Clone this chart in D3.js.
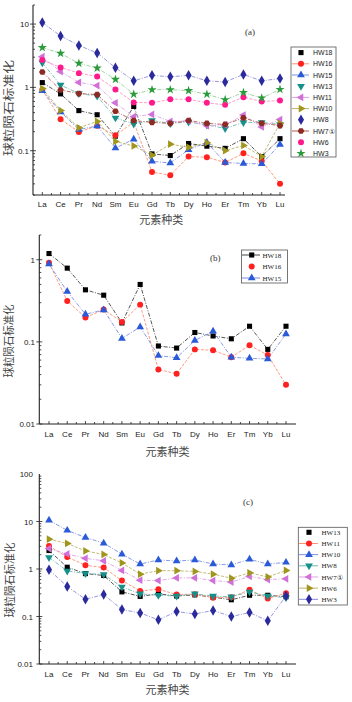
<!DOCTYPE html>
<html>
<head>
<meta charset="utf-8">
<script src="https://cdn.jsdelivr.net/npm/d3@7"></script>
<style>
  body { margin: 0; background: #fff; }
  svg { display: block; }
  .tick-label { font-family: "Liberation Sans", Arial, sans-serif; font-size: 8px; fill: #222; }
  .cn { font-family: "Noto Sans CJK SC", sans-serif; fill: #444; }
</style>
</head>
<body>
<div id="chart"></div>
<script>
// REE elements on the x axis
var elements = ["La", "Ce", "Pr", "Nd", "Sm", "Eu", "Gd", "Tb", "Dy", "Ho", "Er", "Tm", "Yb", "Lu"];

// chondrite normalised values
var hw18 = [1.19, 0.79, 0.43, 0.37, 0.17, 0.50, 0.089, 0.084, 0.13, 0.118, 0.109, 0.155, 0.081, 0.155];
var hw16 = [0.92, 0.315, 0.198, 0.247, 0.175, 0.284, 0.046, 0.041, 0.081, 0.079, 0.065, 0.091, 0.069, 0.030];
var hw15 = [0.885, 0.41, 0.217, 0.245, 0.11, 0.152, 0.068, 0.064, 0.104, 0.135, 0.065, 0.063, 0.062, 0.125];
var hw13 = [2.45, 1.09, 0.80, 0.73, 0.33, 0.265, 0.30, 0.27, 0.285, 0.255, 0.225, 0.28, 0.28, 0.26];
var hw11 = [3.05, 1.78, 1.2, 1.07, 0.57, 0.345, 0.375, 0.29, 0.295, 0.248, 0.255, 0.365, 0.238, 0.31];
var hw10 = [0.96, 0.43, 0.23, 0.29, 0.14, 0.119, 0.085, 0.127, 0.113, 0.134, 0.10, 0.121, 0.081, 0.27];
var hw8 = [10.6, 6.5, 4.6, 3.5, 2.05, 1.27, 1.55, 1.47, 1.55, 1.27, 1.22, 1.6, 1.27, 1.38];
var hw7 = [1.75, 0.91, 0.80, 0.77, 0.42, 0.30, 0.28, 0.27, 0.30, 0.27, 0.26, 0.33, 0.27, 0.25];
var hw6 = [2.7, 2.07, 1.68, 1.49, 0.93, 0.58, 0.57, 0.65, 0.65, 0.57, 0.53, 0.70, 0.60, 0.62];
var hw3 = [4.25, 3.45, 2.4, 2.02, 1.34, 0.78, 0.92, 0.92, 0.89, 0.78, 0.64, 0.83, 0.68, 0.93];

// legend names per panel
var namesA = ["HW18", "HW16", "HW15", "HW13", "HW11", "HW10", "HW8", "HW7\u2460", "HW6", "HW3"];
var namesB = ["HW18", "HW16", "HW15"];
var namesC = ["HW13", "HW11", "HW10", "HW8", "HW7\u2460", "HW6", "HW3"];

// y tick labels per panel
var ticksA = [0.1, 1, 10];
var ticksB = [0.01, 0.1, 1];
var ticksC = [0.01, 0.1, 1, 10, 100];

var yTitle = "球粒陨石标准化";
var xTitle = "元素种类";

// styles: marker shape, marker colour, line colour, dash
var sty = {
	black:  {shape: "square",  fill: "#000",    line: "#444",    dash: "4,1.5,1,1.5"},
	red:    {shape: "circle",  fill: "#ff2020", line: "#ff9070", dash: "3,1.5"},
	blue:   {shape: "up",      fill: "#2a5ad8", line: "#7c8ee2", dash: "4,1.5,1,1.5"},
	teal:   {shape: "down",    fill: "#15908a", line: "#70b8b0", dash: "4,1.5,1,1.5"},
	violet: {shape: "left",    fill: "#d070d8", line: "#e0a0e6", dash: "4,1.5,1,1.5"},
	olive:  {shape: "right",   fill: "#a0961e", line: "#bcb468", dash: "3,1.5"},
	navy:   {shape: "diamond", fill: "#2a2a9c", line: "#8c8cd8", dash: "4,1.5,1,1.5"},
	brown:  {shape: "hex",     fill: "#8c2a24", line: "#b45a52", dash: "4,1.5,1,1.5"},
	pink:   {shape: "circle",  fill: "#ff1a8c", line: "#ff90c4", dash: "3,1.5"},
	green:  {shape: "star",    fill: "#2a9a3a", line: "#98cc98", dash: "4,1.5,1,1.5"}
};

var svg = d3.select("#chart").append("svg")
	.attr("width", 352)
	.attr("height", 702);

function symPath(shape) {
	if (shape == "square") return d3.symbol(d3.symbolSquare, 26)();
	if (shape == "circle") return d3.symbol(d3.symbolCircle, 28)();
	if (shape == "diamond") return d3.symbol(d3.symbolDiamond, 32)();
	if (shape == "star") return d3.symbol(d3.symbolStar, 26)();
	if (shape == "hex") {
		var r = 3.3, pts = [];
		for (var i = 0; i < 6; i++) {
			var a = Math.PI / 3 * i;
			pts.push([r * Math.cos(a), r * Math.sin(a)]);
		}
		return "M" + pts.join("L") + "Z";
	}
	return d3.symbol(d3.symbolTriangle, 26)();
}
function symRot(shape) {
	if (shape == "down") return 180;
	if (shape == "left") return -90;
	if (shape == "right") return 90;
	return 0;
}

function drawMarker(g, x, y, s) {
	g.append("path")
		.attr("d", symPath(s.shape))
		.attr("transform", "translate(" + x + "," + y + ") rotate(" + symRot(s.shape) + ")")
		.attr("fill", s.fill);
}

function drawPanel(p) {
	var g = svg.append("g");

	var x = d3.scalePoint().domain(elements).range([p.xLa, p.xLu]);
	var y = d3.scaleLog().domain(p.domain).range([p.bottom, p.top]);

	// minor y ticks (inside), major ones cross the axis
	var lo = Math.floor(Math.log10(p.domain[0])), hi = Math.ceil(Math.log10(p.domain[1]));
	for (var e = lo; e < hi; e++) {
		for (var m = 1; m < 10; m++) {
			var v = m * Math.pow(10, e);
			if (v < p.domain[0] * 0.999 || v > p.domain[1] * 1.001) continue;
			var major = (m == 1);
			g.append("line")
				.attr("x1", major ? p.left - 3 : p.left)
				.attr("x2", p.left + (major ? 3 : 2))
				.attr("y1", y(v)).attr("y2", y(v))
				.attr("stroke", "#222").attr("stroke-width", 0.8);
		}
	}
	g.selectAll(".ylab").data(p.ticks).enter().append("text")
		.attr("class", "tick-label")
		.attr("x", p.yLabX)
		.attr("y", d => y(d) + 3)
		.attr("text-anchor", "end")
		.text(d => d);

	// x ticks (inside, with minor in between)
	var step = x.step();
	elements.forEach(function(el, i) {
		g.append("line")
			.attr("x1", x(el)).attr("x2", x(el))
			.attr("y1", p.bottom).attr("y2", p.bottom - 3)
			.attr("stroke", "#222").attr("stroke-width", 0.8);
		if (i < elements.length - 1) {
			g.append("line")
				.attr("x1", x(el) + step / 2).attr("x2", x(el) + step / 2)
				.attr("y1", p.bottom).attr("y2", p.bottom - 2)
				.attr("stroke", "#222").attr("stroke-width", 0.8);
		}
	});
	g.selectAll(".xlab").data(elements).enter().append("text")
		.attr("class", "tick-label")
		.attr("x", d => x(d))
		.attr("y", p.xLabY)
		.attr("text-anchor", "middle")
		.text(d => d);

	// axis lines
	g.append("line")
		.attr("x1", p.left).attr("x2", p.left)
		.attr("y1", p.top).attr("y2", p.bottom)
		.attr("stroke", "#222").attr("stroke-width", 1.1);
	g.append("line")
		.attr("x1", p.left).attr("x2", p.right)
		.attr("y1", p.bottom).attr("y2", p.bottom)
		.attr("stroke", "#222").attr("stroke-width", 1.1);

	// titles
	g.append("text")
		.attr("class", "cn")
		.attr("x", (p.xLa + p.xLu) / 2)
		.attr("y", p.xTitleY)
		.attr("text-anchor", "middle")
		.attr("font-size", 11)
		.text(xTitle);
	g.append("text")
		.attr("class", "cn")
		.attr("transform", "translate(" + (p.yTitleX + 4) + "," + p.yTitleY + ") rotate(-90)")
		.attr("text-anchor", "middle")
		.attr("font-size", 11)
		.attr("textLength", p.yTitleLen)
		.attr("lengthAdjust", "spacingAndGlyphs")
		.text(yTitle);

	g.append("text")
		.attr("x", p.labX).attr("y", p.labY)
		.attr("font-family", "Liberation Serif, serif")
		.attr("font-size", 9)
		.attr("fill", "#333")
		.text(p.label);

	// series lines
	var line = d3.line()
		.x((d, i) => x(elements[i]))
		.y(d => y(d));

	p.series.forEach(function(s) {
		g.append("path")
			.datum(s.values)
			.attr("fill", "none")
			.attr("stroke", s.style.line)
			.attr("stroke-width", 0.9)
			.attr("stroke-dasharray", s.style.dash)
			.attr("d", line);
	});
	p.series.forEach(function(s) {
		s.values.forEach(function(v, i) {
			drawMarker(g, x(elements[i]), y(v), s.style);
		});
	});

	// legend
	var L = p.legend;
	g.append("rect")
		.attr("x", L.x).attr("y", L.y)
		.attr("width", L.w).attr("height", L.h)
		.attr("fill", "#fff")
		.attr("stroke", "#555").attr("stroke-width", 0.8);
	p.series.forEach(function(s, i) {
		var yy = L.first + i * L.gap;
		if (s.legLine) {
			g.append("line")
				.attr("x1", L.lx1).attr("x2", L.lx2)
				.attr("y1", yy).attr("y2", yy)
				.attr("stroke", s.style.line).attr("stroke-width", 1);
		}
		drawMarker(g, L.sx, yy, s.style);
		g.append("text")
			.attr("x", L.tx).attr("y", yy + 2.6)
			.attr("font-family", L.font)
			.attr("font-size", L.size)
			.attr("fill", "#222")
			.text(s.name);
	});
}

// panel (a)
var dataA = [hw18, hw16, hw15, hw13, hw11, hw10, hw8, hw7, hw6, hw3];
var stylesA = ["black", "red", "blue", "teal", "violet", "olive", "navy", "brown", "pink", "green"];
var legLineA = [false, true, true, false, true, true, false, true, false, false];
drawPanel({
	left: 33, right: 285, top: 5, bottom: 195,
	xLa: 42.3, xLu: 280,
	domain: [0.02, 20], ticks: ticksA,
	yLabX: 29, xLabY: 207, xTitleY: 224,
	yTitleX: 9, yTitleY: 108, yTitleLen: 96,
	label: "(a)", labX: 245, labY: 35,
	series: namesA.map((n, i) => ({name: n, values: dataA[i], style: sty[stylesA[i]], legLine: legLineA[i]})),
	legend: {x: 291, y: 47, w: 45, h: 110, first: 52.6, gap: 11.2,
		lx1: 292, lx2: 309, sx: 301, tx: 313, font: "Liberation Sans, sans-serif", size: 7}
});

// panel (b)
var dataB = [hw18, hw16, hw15];
var stylesB = ["black", "red", "blue"];
var legLineB = [true, false, true];
drawPanel({
	left: 39.3, right: 296, top: 235, bottom: 424,
	xLa: 49, xLu: 286,
	domain: [0.01, 2], ticks: ticksB,
	yLabX: 35, xLabY: 437, xTitleY: 456,
	yTitleX: 9, yTitleY: 341, yTitleLen: 73,
	label: "(b)", labX: 210, labY: 261,
	series: namesB.map((n, i) => ({name: n, values: dataB[i], style: sty[stylesB[i]], legLine: legLineB[i]})),
	legend: {x: 241.5, y: 250, w: 46, h: 33, first: 255, gap: 11.5,
		lx1: 242, lx2: 260, sx: 251.7, tx: 262.5, font: "Liberation Serif, serif", size: 7}
});

// panel (c)
var dataC = [hw13, hw11, hw8, hw7, hw6, hw3, hw10];
var stylesC = ["black", "red", "blue", "teal", "violet", "olive", "navy"];
var legLineC = [false, true, true, true, true, true, true];
drawPanel({
	left: 39.3, right: 296, top: 474, bottom: 664,
	xLa: 49, xLu: 286,
	domain: [0.01, 100], ticks: ticksC,
	yLabX: 33, xLabY: 677, xTitleY: 694,
	yTitleX: 9.5, yTitleY: 580, yTitleLen: 75,
	label: "(c)", labX: 243, labY: 505,
	series: namesC.map((n, i) => ({name: n, values: dataC[i], style: sty[stylesC[i]], legLine: legLineC[i]})),
	legend: {x: 298.3, y: 527.3, w: 49, h: 77.7, first: 532.3, gap: 11.17,
		lx1: 299, lx2: 318, sx: 309, tx: 321.5, font: "Liberation Serif, serif", size: 7}
});
</script>
</body>
</html>
